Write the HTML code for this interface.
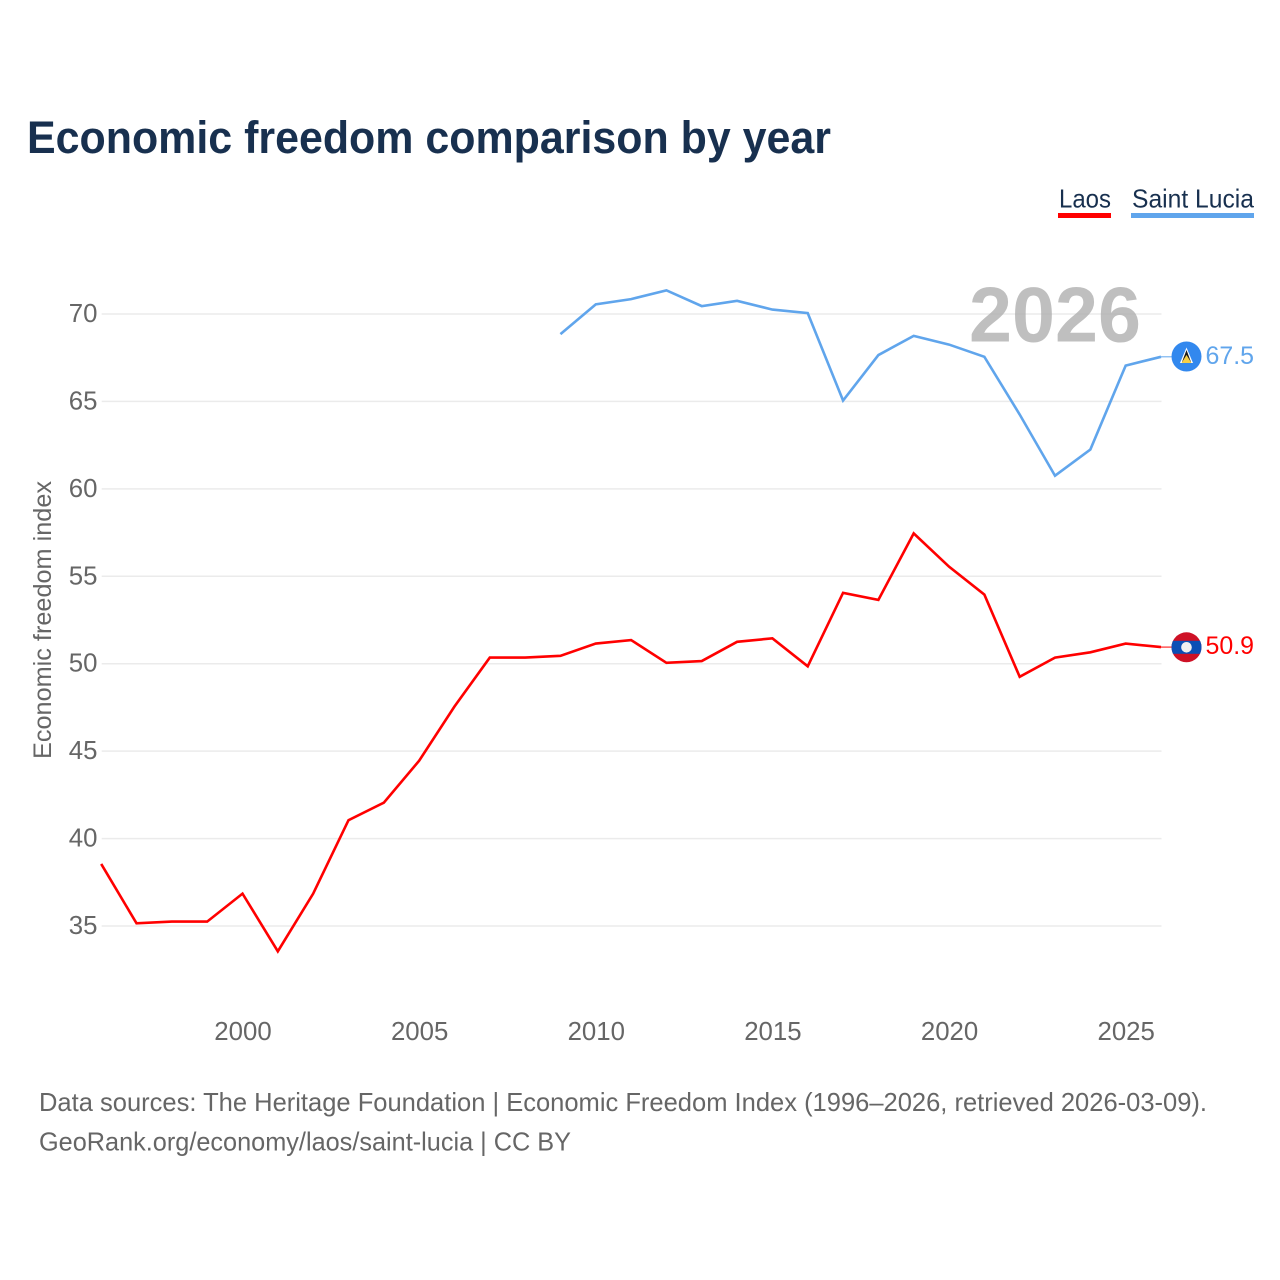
<!DOCTYPE html>
<html lang="en">
<head>
<meta charset="utf-8">
<title>Economic freedom comparison by year</title>
<style>
html,body{margin:0;padding:0;background:#fff;width:1280px;height:1280px;overflow:hidden}
svg{display:block;font-family:"Liberation Sans",sans-serif}
</style>
</head>
<body>
<svg id="chart" width="1280" height="1280" viewBox="0 0 1280 1280" xmlns="http://www.w3.org/2000/svg">
  <rect x="0" y="0" width="1280" height="1280" fill="#fff"/>
  <text x="27" y="153" font-size="45" font-weight="700" fill="#18304f" textLength="804" lengthAdjust="spacingAndGlyphs">Economic freedom comparison by year</text>

  <g>
    <g>
      <text x="1059" y="207.5" font-size="26" fill="#18304f" textLength="52" lengthAdjust="spacingAndGlyphs">Laos</text>
      <rect x="1058" y="213" width="53" height="5" fill="#ff0000"/>
    </g>
    <g>
      <text x="1132" y="207.5" font-size="26" fill="#18304f" textLength="122" lengthAdjust="spacingAndGlyphs">Saint Lucia</text>
      <rect x="1131" y="213" width="123" height="5" fill="#60a5ec"/>
    </g>
  </g>

  <g id="grid"></g>
  <text x="969" y="341.5" font-size="78" font-weight="700" fill="#a9a9a9" fill-opacity="0.75" textLength="172" lengthAdjust="spacingAndGlyphs">2026</text>
  <g id="yticks"></g>
  <g id="xticks"></g>
  <text transform="translate(51,759) rotate(-90)" x="0" y="0" font-size="25" fill="#666" textLength="278" lengthAdjust="spacingAndGlyphs">Economic freedom index</text>
  <g id="series" transform="translate(-0.5,-0.9)"></g>

  <g>
    <circle cx="1186.5" cy="356.5" r="15" fill="#3288ee"/>
    <polygon points="1186.5,347.5 1193,363 1180,363" fill="#fff"/>
    <polygon points="1186.5,350 1191,362 1182,362" fill="#1a1a1a"/>
    <polygon points="1186.5,355 1191.5,363 1181.5,363" fill="#f5cf47"/>
  </g>
  <g>
    <clipPath id="laos-clip"><circle cx="1186.5" cy="647.3" r="15"/></clipPath>
    <g clip-path="url(#laos-clip)">
      <rect x="1171" y="632" width="31" height="31" fill="#ce1126"/>
      <rect x="1171" y="640.8" width="31" height="13" fill="#0b4fb5"/>
      <circle cx="1186.5" cy="647.3" r="5.3" fill="#f0f0f0"/>
    </g>
  </g>
  <text x="1205.5" y="364" font-size="25" fill="#60a5ec" textLength="48.5" lengthAdjust="spacingAndGlyphs">67.5</text>
  <text x="1205.5" y="654" font-size="25" fill="#ff0000" textLength="48.5" lengthAdjust="spacingAndGlyphs">50.9</text>

  <g>
    <text x="39" y="1111" font-size="26" fill="#666" textLength="1168" lengthAdjust="spacingAndGlyphs">Data sources: The Heritage Foundation | Economic Freedom Index (1996–2026, retrieved 2026-03-09).</text>
    <text x="39" y="1150.5" font-size="26" fill="#666" textLength="532" lengthAdjust="spacingAndGlyphs">GeoRank.org/economy/laos/saint-lucia | CC BY</text>
  </g>
</svg>
<script>
const laosYears = [1996,1997,1998,1999,2000,2001,2002,2003,2004,2005,2006,2007,2008,2009,2010,2011,2012,2013,2014,2015,2016,2017,2018,2019,2020,2021,2022,2023,2024,2025,2026];
const laosValues = [38.5,35.1,35.2,35.2,36.8,33.5,36.8,41.0,42.0,44.4,47.5,50.3,50.3,50.4,51.1,51.3,50.0,50.1,51.2,51.4,49.8,54.0,53.6,57.4,55.5,53.9,49.2,50.3,50.6,51.1,50.9];
const luciaYears = [2009,2010,2011,2012,2013,2014,2015,2016,2017,2018,2019,2020,2021,2022,2023,2024,2025,2026];
const luciaValues = [68.8,70.5,70.8,71.3,70.4,70.7,70.2,70.0,65.0,67.6,68.7,68.2,67.5,64.2,60.7,62.2,67.0,67.5];
const yTickValues = [35,40,45,50,55,60,65,70];
const xTickValues = [2000,2005,2010,2015,2020,2025];

const NS = 'http://www.w3.org/2000/svg';
const xScale = function (year) { return 101.7 + (year - 1996) * (1161.5 - 101.7) / 30; };
const yScale = function (v) { return 926 - (v - 35) * (926 - 314) / 35; };
const plotLeft = xScale(1996);
const plotRight = xScale(2026);

const gridGroup = document.getElementById('grid');
const yGroup = document.getElementById('yticks');
const xGroup = document.getElementById('xticks');
const seriesGroup = document.getElementById('series');

yTickValues.forEach(function (v) {
  const line = document.createElementNS(NS, 'line');
  
  
  line.setAttribute('x1', plotLeft);
  line.setAttribute('x2', plotRight);
  line.setAttribute('y1', yScale(v));
  line.setAttribute('y2', yScale(v));
  line.setAttribute('stroke', '#ebebeb');
  line.setAttribute('stroke-width', '1.5');
  gridGroup.appendChild(line);

  const label = document.createElementNS(NS, 'text');
  
  
  label.setAttribute('x', 97.5);
  label.setAttribute('y', yScale(v) + 8);
  label.setAttribute('text-anchor', 'end');
  label.setAttribute('font-size', '25.8');
  label.setAttribute('fill', '#666');
  label.textContent = String(v);
  yGroup.appendChild(label);
});

xTickValues.forEach(function (year) {
  const label = document.createElementNS(NS, 'text');
  
  
  label.setAttribute('x', xScale(year));
  label.setAttribute('y', 1040);
  label.setAttribute('text-anchor', 'middle');
  label.setAttribute('font-size', '25.8');
  label.setAttribute('fill', '#666');
  label.textContent = String(year);
  xGroup.appendChild(label);
});

function pathFor(years, values) {
  return values.map(function (v, i) {
    return (i ? 'L' : 'M') + xScale(years[i]).toFixed(2) + ' ' + yScale(v).toFixed(2);
  }).join(' ');
}

const laosLine = document.createElementNS(NS, 'path');


laosLine.setAttribute('d', pathFor(laosYears, laosValues));
laosLine.setAttribute('fill', 'none');
laosLine.setAttribute('stroke', '#ff0000');
laosLine.setAttribute('stroke-width', '2.6');
seriesGroup.appendChild(laosLine);

const luciaLine = document.createElementNS(NS, 'path');


luciaLine.setAttribute('d', pathFor(luciaYears, luciaValues));
luciaLine.setAttribute('fill', 'none');
luciaLine.setAttribute('stroke', '#60a5ec');
luciaLine.setAttribute('stroke-width', '2.6');
seriesGroup.appendChild(luciaLine);

const laosConnector = document.createElementNS(NS, 'line');


laosConnector.setAttribute('x1', plotRight);
laosConnector.setAttribute('x2', 1172);
laosConnector.setAttribute('y1', yScale(laosValues[laosValues.length - 1]));
laosConnector.setAttribute('y2', yScale(laosValues[laosValues.length - 1]));
laosConnector.setAttribute('stroke', '#ff0000');
laosConnector.setAttribute('stroke-width', '1');
seriesGroup.appendChild(laosConnector);

const luciaConnector = document.createElementNS(NS, 'line');


luciaConnector.setAttribute('x1', plotRight);
luciaConnector.setAttribute('x2', 1172);
luciaConnector.setAttribute('y1', yScale(luciaValues[luciaValues.length - 1]));
luciaConnector.setAttribute('y2', yScale(luciaValues[luciaValues.length - 1]));
luciaConnector.setAttribute('stroke', '#60a5ec');
luciaConnector.setAttribute('stroke-width', '1');
seriesGroup.appendChild(luciaConnector);
</script>
</body>
</html>
